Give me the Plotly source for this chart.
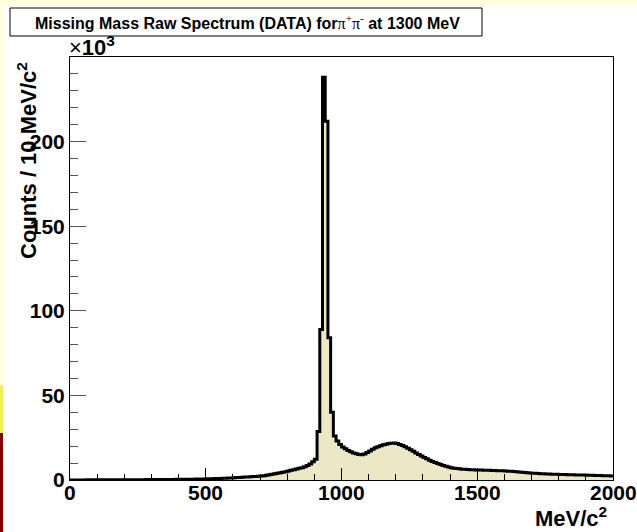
import plotly.graph_objects as go

# ---------------- data ----------------
bin_width_mev = 10
bin_low_edges_mev = list(range(0, 2000, bin_width_mev))

counts_thousands = [
    # 0-90
    0.05, 0.05, 0.06, 0.06, 0.07, 0.07, 0.08, 0.08, 0.09, 0.09,
    # 100-190
    0.10, 0.10, 0.11, 0.11, 0.12, 0.12, 0.13, 0.13, 0.14, 0.15,
    # 200-290
    0.15, 0.16, 0.17, 0.18, 0.19, 0.20, 0.21, 0.22, 0.23, 0.24,
    # 300-390
    0.25, 0.26, 0.27, 0.28, 0.30, 0.31, 0.32, 0.34, 0.35, 0.37,
    # 400-490
    0.39, 0.41, 0.43, 0.45, 0.48, 0.50, 0.53, 0.56, 0.60, 0.64,
    # 500-590
    0.68, 0.72, 0.77, 0.82, 0.88, 0.94, 1.00, 1.07, 1.15, 1.23,
    # 600-690
    1.32, 1.41, 1.50, 1.60, 1.70, 1.80, 1.90, 2.00, 2.10, 2.20,
    # 700-790
    2.35, 2.55, 2.80, 3.10, 3.40, 3.70, 4.00, 4.30, 4.60, 4.90,
    # 800-890
    5.30, 5.70, 6.10, 6.50, 6.90, 7.30, 7.80, 8.50, 9.50, 10.8,
    # 900-990
    12.3, 28.7, 89.0, 238.0, 212.0, 84.0, 40.0, 26.0, 23.0, 21.0,
    # 1000-1090
    19.5, 18.4, 17.5, 16.7, 16.0, 15.5, 15.1, 14.9, 15.3, 16.2,
    # 1100-1190
    17.2, 18.2, 19.0, 19.7, 20.3, 20.8, 21.2, 21.5, 21.7, 21.8,
    # 1200-1290
    21.5, 21.0, 20.4, 19.6, 18.8, 17.9, 17.0, 16.0, 15.1, 14.2,
    # 1300-1390
    13.3, 12.5, 11.7, 11.0, 10.3, 9.7, 9.1, 8.6, 8.1, 7.7,
    # 1400-1490
    7.3, 7.0, 6.8, 6.6, 6.4, 6.3, 6.2, 6.1, 6.0, 5.95,
    # 1500-1590
    5.9, 5.85, 5.8, 5.75, 5.7, 5.65, 5.6, 5.5, 5.45, 5.4,
    # 1600-1690
    5.3, 5.2, 5.1, 5.0, 4.9, 4.8, 4.65, 4.5, 4.35, 4.2,
    # 1700-1790
    4.05, 3.95, 3.85, 3.75, 3.65, 3.55, 3.5, 3.45, 3.4, 3.35,
    # 1800-1890
    3.3, 3.25, 3.2, 3.15, 3.1, 3.05, 3.0, 3.0, 2.95, 2.9,
    # 1900-1990
    2.85, 2.8, 2.75, 2.7, 2.65, 2.6, 2.55, 2.5, 2.45, 2.4,
]

x_tick_values = [0, 500, 1000, 1500, 2000]
x_tick_labels = ["0", "500", "1000", "1500", "2000"]
y_tick_values = [0, 50000, 100000, 150000, 200000]
y_tick_labels = ["0", "50", "100", "150", "200"]

title_text = ("<b>Missing Mass Raw Spectrum (DATA) for</b>"
              "<span style='font-family:Liberation Serif'>π<sup>+</sup>π<sup>-</sup></span>"
              "<b> at 1300 MeV</b>")
y_title_text = "<b>Counts / 10 MeV/c<sup>2</sup></b>"
x_title_text = "<b>MeV/c<sup>2</sup></b>"
exponent_text = "×<b>10<sup>3</sup></b>"

# ---------------- geometry helpers (pixel -> paper) ----------------
W, H = 637, 532
L, R, T, B = 70, 24, 57, 52
PW, PH = W - L - R, H - T - B


def px(x):
    return (x - L) / PW


def py(y):
    return (H - B - y) / PH


counts = [c * 1000 for c in counts_thousands]
x_line = bin_low_edges_mev + [bin_low_edges_mev[-1] + bin_width_mev]
y_line = counts + [counts[-1]]

fig = go.Figure()
fig.add_trace(go.Scatter(
    x=x_line, y=y_line, mode="lines",
    line=dict(shape="hv", color="black", width=3),
    fill="tozeroy", fillcolor="#ece8c6",
    hoverinfo="skip",
))

tickfont = dict(family="Liberation Sans", size=21, color="black", weight="bold")

fig.update_layout(
    width=W, height=H,
    margin=dict(l=L, r=R, t=T, b=B, pad=0),
    paper_bgcolor="white", plot_bgcolor="white",
    showlegend=False,
    xaxis=dict(
        range=[0, 2000], tickmode="array", tickvals=x_tick_values,
        showticklabels=False,
        ticks="inside", ticklen=12, tickwidth=1, tickcolor="black",
        showline=True, linecolor="black", linewidth=1, mirror=True,
        showgrid=False, zeroline=False,
        minor=dict(tickmode="linear", tick0=0, dtick=100, ticks="inside",
                   ticklen=6, tickcolor="black", showgrid=False),
    ),
    yaxis=dict(
        range=[0, 250000], tickmode="array", tickvals=y_tick_values, ticktext=y_tick_labels,
        ticks="inside", ticklen=16, tickwidth=1, tickcolor="#555555",
        showline=True, linecolor="black", linewidth=1, mirror=True,
        showgrid=False, zeroline=False, tickfont=tickfont,
        minor=dict(tickmode="linear", tick0=0, dtick=10000, ticks="inside",
                   ticklen=8, tickcolor="#555555", showgrid=False),
    ),
)

# x tick labels drawn at the axis' own data positions
for v, lab in zip(x_tick_values, x_tick_labels):
    fig.add_annotation(text=lab, xref="x", yref="paper", x=v, y=py(492),
                       xanchor="center", yanchor="middle", showarrow=False,
                       font=tickfont)

shapes = [
    # screenshot edge strips
    dict(type="rect", xref="paper", yref="paper", x0=px(0), x1=px(W), y0=py(5), y1=py(0),
         fillcolor="#ffffdd", line=dict(width=0), layer="below"),
    dict(type="rect", xref="paper", yref="paper", x0=px(0), x1=px(3), y0=py(385), y1=py(0),
         fillcolor="#ffffdd", line=dict(width=0), layer="below"),
    dict(type="rect", xref="paper", yref="paper", x0=px(0), x1=px(3), y0=py(433), y1=py(385),
         fillcolor="#eeee55", line=dict(width=0), layer="below"),
    dict(type="rect", xref="paper", yref="paper", x0=px(0), x1=px(3), y0=py(H), y1=py(433),
         fillcolor="#800000", line=dict(width=0), layer="below"),
    # title box
    dict(type="rect", xref="paper", yref="paper", x0=px(10), x1=px(482), y0=py(36), y1=py(8),
         fillcolor="white", line=dict(color="black", width=1), layer="above"),
]
fig.update_layout(shapes=shapes)

fig.add_annotation(text=title_text, xref="paper", yref="paper", x=px(247), y=py(22),
                   xanchor="center", yanchor="middle", showarrow=False,
                   font=dict(family="Liberation Sans", size=16, color="black"))
fig.add_annotation(text=exponent_text, xref="paper", yref="paper", x=px(67), y=py(46),
                   xanchor="left", yanchor="middle", showarrow=False,
                   font=dict(family="Liberation Sans", size=22, color="black"))
fig.add_annotation(text=y_title_text, xref="paper", yref="paper", x=px(27), y=py(161),
                   xanchor="center", yanchor="middle", textangle=-90, showarrow=False,
                   font=dict(family="Liberation Sans", size=22, color="black"))
fig.add_annotation(text=x_title_text, xref="paper", yref="paper", x=px(609), y=py(517),
                   xanchor="right", yanchor="middle", showarrow=False,
                   font=dict(family="Liberation Sans", size=22, color="black"))

fig.write_html("out.html")
